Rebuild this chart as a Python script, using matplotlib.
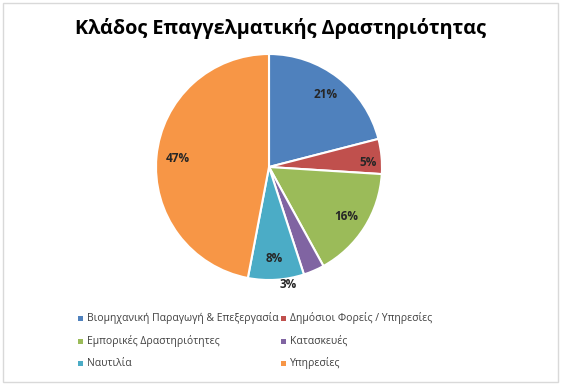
import matplotlib
matplotlib.use("Agg")
import matplotlib.pyplot as plt
from matplotlib.patches import Rectangle

categories = ["Βιομηχανική Παραγωγή & Επεξεργασία", "Δημόσιοι Φορείς / Υπηρεσίες",
              "Εμπορικές Δραστηριότητες", "Κατασκευές", "Ναυτιλία", "Υπηρεσίες"]
values = [21, 5, 16, 3, 8, 47]
colors = ["#4F81BD", "#C0504D", "#9BBB59", "#8064A2", "#4BACC6", "#F79646"]
title = "Κλάδος Επαγγελματικής Δραστηριότητας"

plt.rcParams['font.family'] = ['Open Sans', 'DejaVu Sans']

fig = plt.figure(figsize=(5.61, 3.85), dpi=100)
fig.patches.append(Rectangle((0.005, 0.008), 0.99, 0.984, transform=fig.transFigure,
                             fill=False, edgecolor="#D9D9D9", linewidth=1))

cx, cy, r = 269/561, (385-167)/385, 113
ax = fig.add_axes([cx - r/561, cy - r/385, 2*r/561, 2*r/385])
wedges, texts, autotexts = ax.pie(values, colors=colors, startangle=90, counterclock=False,
                                  autopct='%1.0f%%', pctdistance=0.81,
                                  wedgeprops=dict(edgecolor='white', linewidth=1.5),
                                  textprops=dict(fontsize=8.5, fontweight='bold', color='#262626'))
# small slice labels placed like the reference
autotexts[3].set_position((0.17, -1.04))
autotexts[1].set_position((0.88, 0.04))
ax.set_xlim(-1, 1)
ax.set_ylim(-1, 1)

fig.text(0.5, 0.925, title, ha='center', va='center', fontsize=14.3, fontweight='bold', color='black')

# legend
col_x = [80/561, 283/561]
row_y = [318, 341, 363]
for i, (cat, c) in enumerate(zip(categories, colors)):
    x = col_x[i % 2]
    y = 1 - row_y[i // 2] / 385
    fig.patches.append(Rectangle((x - 2.5/561, y - 2.5/385), 5/561, 5/385,
                                 transform=fig.transFigure, facecolor=c, edgecolor='none'))
    fig.text(x + 7/561, y, cat, ha='left', va='center', fontsize=7.5, color='#404040')

fig.savefig("out.png", dpi=100, facecolor='white')
